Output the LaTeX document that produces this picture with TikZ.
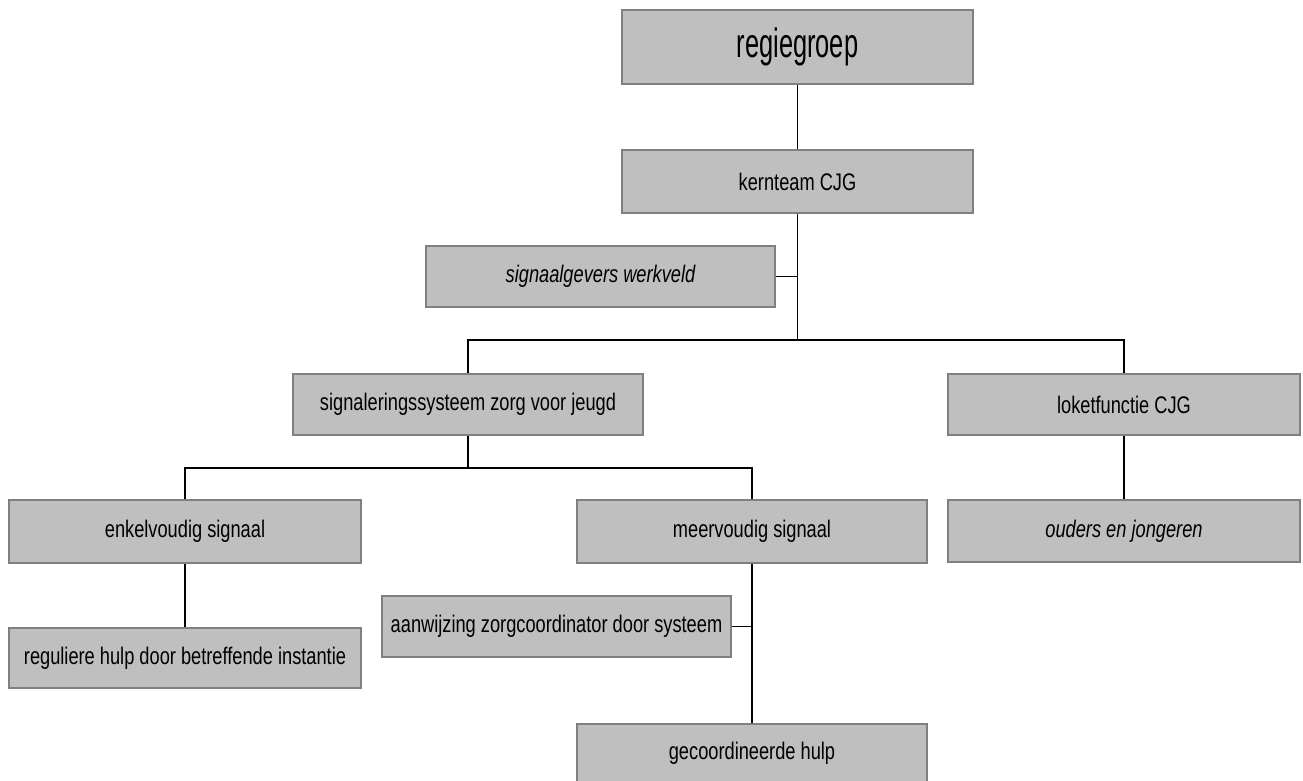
\documentclass[tikz,border=0pt]{standalone}
\usepackage{fontspec}
\setmainfont[FakeStretch=0.76]{Liberation Sans}
\newfontfamily\regiefont[FakeStretch=0.62]{Liberation Sans}
\begin{document}
\begin{tikzpicture}[x=1pt,y=-1pt,
  box/.style={draw=black!50,line width=1.2pt,fill=black!25,rectangle,inner sep=0pt,
    font=\fontsize{24}{28}\selectfont},
  conn/.style={draw=black,line width=1.3pt}]
\useasboundingbox (0,0) rectangle (1303,780);
\clip (0,0) rectangle (1303,780);
\fill[white] (0,0) rectangle (1303,780);
\newcommand{\bx}[7]{\node[box,minimum width=#4-#2,minimum height=#5-#3,#6] (#1) at ({(#2+#4)/2},{(#3+#5)/2}) {#7};}
\bx{regie}{622}{10}{973}{84}{font=\regiefont\fontsize{41}{46}\selectfont}{regiegroep}
\bx{kern}{622}{150}{973}{213}{}{kernteam CJG}
\bx{sig}{426}{246}{775}{307}{}{\itshape signaalgevers werkveld}
\bx{sigsys}{293}{374}{643}{435}{}{signaleringssysteem zorg voor jeugd}
\bx{loket}{948}{374}{1300}{435}{}{loketfunctie CJG}
\bx{enkel}{9}{500}{361}{563}{}{enkelvoudig signaal}
\bx{meer}{577}{500}{927}{563}{}{meervoudig signaal}
\bx{ouders}{948}{500}{1300}{562}{}{\itshape ouders en jongeren}
\bx{aanw}{382}{596}{731}{657}{}{aanwijzing zorgcoordinator door systeem}
\bx{reg}{9}{628}{361}{688}{}{reguliere hulp door betreffende instantie}
\bx{geco}{577}{724}{927}{782}{}{gecoordineerde hulp}
\coordinate (k1) at (797.5,340);
\coordinate (s1) at (468,468);
\draw[conn] (regie.south) -- (kern.north);
\draw[conn] (kern.south) -- (k1);
\draw[conn] (sig.east) -- (sig.east -| k1);
\draw[conn] (sigsys.north) |- (k1) -| (loket.north);
\draw[conn] (sigsys.south) -- (s1);
\draw[conn] (enkel.north) |- (s1) -| (meer.north);
\draw[conn] (enkel.south) -- (reg.north);
\draw[conn] (meer.south) -- (geco.north);
\draw[conn] (aanw.east) -- (aanw.east -| meer.south);
\draw[conn] (loket.south) -- (ouders.north);
\end{tikzpicture}
\end{document}
